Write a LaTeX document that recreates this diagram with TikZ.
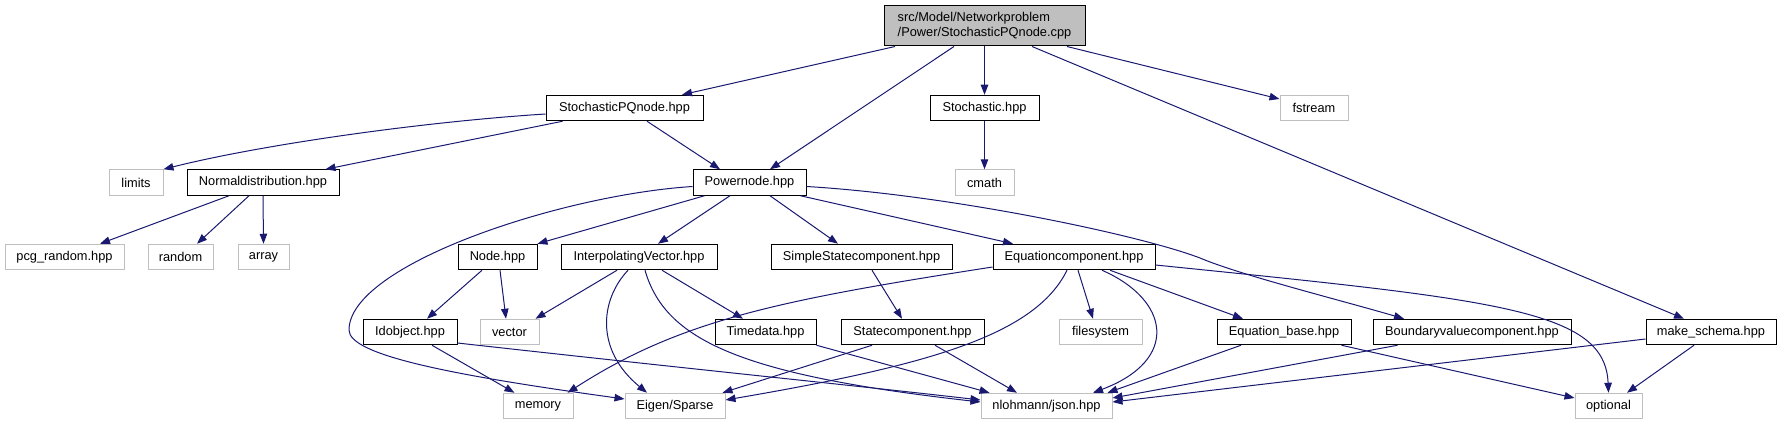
\documentclass[tikz,border=0pt]{standalone}
\usepackage{fontspec}
\setmainfont{Liberation Sans}
\usetikzlibrary{arrows.meta,calc}

\definecolor{edgeblue}{HTML}{191970}

\newcommand*{\picw}{1784}
\newcommand*{\pich}{425}
\newcommand*{\fileh}{25.5pt}

\begin{document}
\begin{tikzpicture}
[
	x=1pt, y=-1pt,
	docfile/.style={draw=black,line width=1pt,fill=white,inner sep=0pt,minimum height=\fileh,font=\fontsize{12.8}{15}\selectfont},
	extfile/.style={docfile,draw=black!25},
	topfile/.style={docfile,fill=black!25,minimum height=40pt,align=left},
	incl/.style={draw=edgeblue,line width=1pt,-{Triangle[length=10pt,width=7.5pt]}}
]

	\useasboundingbox (0,0) rectangle (\picw,\pich);

	% top file
	\node[topfile,minimum width=201pt] at (984.5,26) (main) {src/Model/Networkproblem\\/Power/StochasticPQnode.cpp};

	% level 1
	\node[docfile,minimum width=157pt] at (624.5,108) (spq) {StochasticPQnode.hpp};
	\node[docfile,minimum width=109pt] at (984.5,108) (stoch) {Stochastic.hpp};
	\node[extfile,minimum width=68pt] at (1314,108) (fstream) {fstream};

	% level 2
	\node[extfile,minimum width=54pt] at (136,182.5) (limits) {limits};
	\node[docfile,minimum width=152pt] at (263,182.5) (normal) {Normaldistribution.hpp};
	\node[docfile,minimum width=113pt] at (749.5,182.5) (power) {Powernode.hpp};
	\node[extfile,minimum width=59pt] at (984.5,182.5) (cmath) {cmath};

	% level 3
	\node[extfile,minimum width=119pt] at (64.5,257) (pcg) {pcg\_random.hpp};
	\node[extfile,minimum width=65pt] at (180.5,257) (random) {random};
	\node[extfile,minimum width=51pt] at (263.5,257) (array) {array};
	\node[docfile,minimum width=79pt] at (497.5,257) (nodeh) {Node.hpp};
	\node[docfile,minimum width=156pt] at (639,257) (interp) {InterpolatingVector.hpp};
	\node[docfile,minimum width=181pt] at (861.5,257) (simple) {SimpleStatecomponent.hpp};
	\node[docfile,minimum width=162pt] at (1074,257) (eqcomp) {Equationcomponent.hpp};

	% level 4
	\node[docfile,minimum width=94pt] at (410,332) (idobj) {Idobject.hpp};
	\node[extfile,minimum width=59pt] at (509.5,332) (vector) {vector};
	\node[docfile,minimum width=101pt] at (765.5,332) (timedata) {Timedata.hpp};
	\node[docfile,minimum width=143pt] at (912.5,332) (statecomp) {Statecomponent.hpp};
	\node[extfile,minimum width=83pt] at (1100.5,332) (filesys) {filesystem};
	\node[docfile,minimum width=134pt] at (1284,332) (eqbase) {Equation\_base.hpp};
	\node[docfile,minimum width=198pt] at (1472,332) (boundary) {Boundaryvaluecomponent.hpp};
	\node[docfile,minimum width=130pt] at (1711,332) (schema) {make\_schema.hpp};

	% level 5
	\node[extfile,minimum width=70pt] at (538,406) (memory) {memory};
	\node[extfile,minimum width=100pt] at (675,406) (eigen) {Eigen/Sparse};
	\node[extfile,minimum width=131pt] at (1046.5,406) (json) {nlohmann/json.hpp};
	\node[extfile,minimum width=67pt] at (1608.5,406) (optional) {optional};

	% includes of the top file
	\draw[incl] ($(main.south)+(-89.5,0)$) -- ($(spq.north)+(57.5,0)$);
	\draw[incl] ($(main.south)+(-30.5,0)$) -- ($(power.north)+(20.5,0)$);
	\draw[incl] (main.south) -- (stoch.north);
	\draw[incl] ($(main.south)+(82.5,0)$) -- ($(fstream.west)+(0,-9)$);
	\draw[incl] ($(main.south)+(47.5,0)$) -- ($(schema.north)+(-27,0)$);

	% StochasticPQnode.hpp, Stochastic.hpp
	\draw[incl] ($(spq.west)+(0,6)$) .. controls (420,122) and (260,145) .. (limits.north east);
	\draw[incl] ($(spq.south west)+(17,0)$) -- ($(normal.north east)+(-14,0)$);
	\draw[incl] ($(spq.south)+(22.5,0)$) -- ($(power.north)+(-29.5,0)$);
	\draw[incl] (stoch.south) -- (cmath.north);

	% Normaldistribution.hpp
	\draw[incl] ($(normal.south)+(-34,0)$) -- ($(pcg.north)+(35.5,0)$);
	\draw[incl] ($(normal.south)+(-14,0)$) -- ($(random.north)+(16.5,0)$);
	\draw[incl] (normal.south) -- (array.north);

	% Powernode.hpp
	\draw[incl] ($(power.west)+(0,4)$) .. controls (560,195) and (349,265) .. (349,330)
		.. controls (349,355) and (450,375) .. ($(eigen.west)+(0,-7)$);
	\draw[incl] ($(power.south west)+(12,0)$) -- (nodeh.north east);
	\draw[incl] ($(power.south)+(-19.5,0)$) -- ($(interp.north)+(19,0)$);
	\draw[incl] ($(power.south)+(20.5,0)$) -- ($(simple.north)+(-23.5,0)$);
	\draw[incl] ($(power.south east)+(-6,0)$) -- ($(eqcomp.north)+(-61,0)$);
	\draw[incl] ($(power.east)+(0,4)$) .. controls (950,195) and (1140,235) .. (1200,258)
		.. controls (1240,275) and (1340,300) .. ($(boundary.north)+(-68,0)$);

	% Node.hpp, InterpolatingVector.hpp, SimpleStatecomponent.hpp
	\draw[incl] ($(nodeh.south)+(-15.5,0)$) -- ($(idobj.north)+(17,0)$);
	\draw[incl] ($(nodeh.south)+(2.5,0)$) -- ($(vector.north)+(-3.5,0)$);
	\draw[incl] ($(interp.south)+(-22,0)$) -- ($(vector.north east)+(-4,0)$);
	\draw[incl] ($(interp.south)+(-11,0)$) .. controls (600,300) and (595,350) .. ($(eigen.north)+(-28,0)$);
	\draw[incl] ($(interp.south)+(6,0)$) .. controls (665,340) and (740,375) .. ($(json.west)+(0,-4)$);
	\draw[incl] ($(interp.south)+(23,0)$) -- ($(timedata.north)+(-22.5,0)$);
	\draw[incl] ($(simple.south)+(10.5,0)$) -- ($(statecomp.north)+(-10.5,0)$);

	% Equationcomponent.hpp
	\draw[incl] ($(eqcomp.west)+(0,10)$) .. controls (780,300) and (680,320) .. ($(memory.north east)+(-6,0)$);
	\draw[incl] ($(eqcomp.south)+(-7,0)$) .. controls (1035,335) and (930,365) .. ($(eigen.east)+(0,-6)$);
	\draw[incl] ($(eqcomp.south)+(4,0)$) -- ($(filesys.north)+(-7.5,0)$);
	\draw[incl] ($(eqcomp.south)+(28,0)$) .. controls (1170,300) and (1180,360) .. ($(json.north)+(46.5,0)$);
	\draw[incl] ($(eqcomp.south)+(36,0)$) -- ($(eqbase.north)+(-41,0)$);
	\draw[incl] ($(eqcomp.east)+(0,8)$) .. controls (1500,300) and (1605,310) .. (optional.north);

	% level 4 files
	\draw[incl] ($(idobj.south)+(22,0)$) -- ($(memory.north west)+(12,0)$);
	\draw[incl] ($(idobj.east)+(0,11)$) .. controls (700,370) and (850,385) .. ($(json.west)+(0,-6)$);
	\draw[incl] (timedata.south east) -- ($(json.north west)+(9,0)$);
	\draw[incl] ($(statecomp.south)+(-40.5,0)$) -- ($(eigen.north east)+(-3,0)$);
	\draw[incl] ($(statecomp.south)+(22.5,0)$) -- ($(json.north)+(-29.5,0)$);
	\draw[incl] ($(eqbase.south)+(-43,0)$) -- ($(json.north east)+(-5,0)$);
	\draw[incl] ($(eqbase.south east)+(-10,0)$) -- ($(optional.west)+(0,-8)$);
	\draw[incl] ($(boundary.south west)+(25,0)$) -- ($(json.east)+(0,-8)$);
	\draw[incl] ($(schema.west)+(0,7)$) -- ($(json.east)+(0,-4)$);
	\draw[incl] ($(schema.south)+(-17,0)$) -- ($(optional.north)+(18.5,0)$);

\end{tikzpicture}
\end{document}
